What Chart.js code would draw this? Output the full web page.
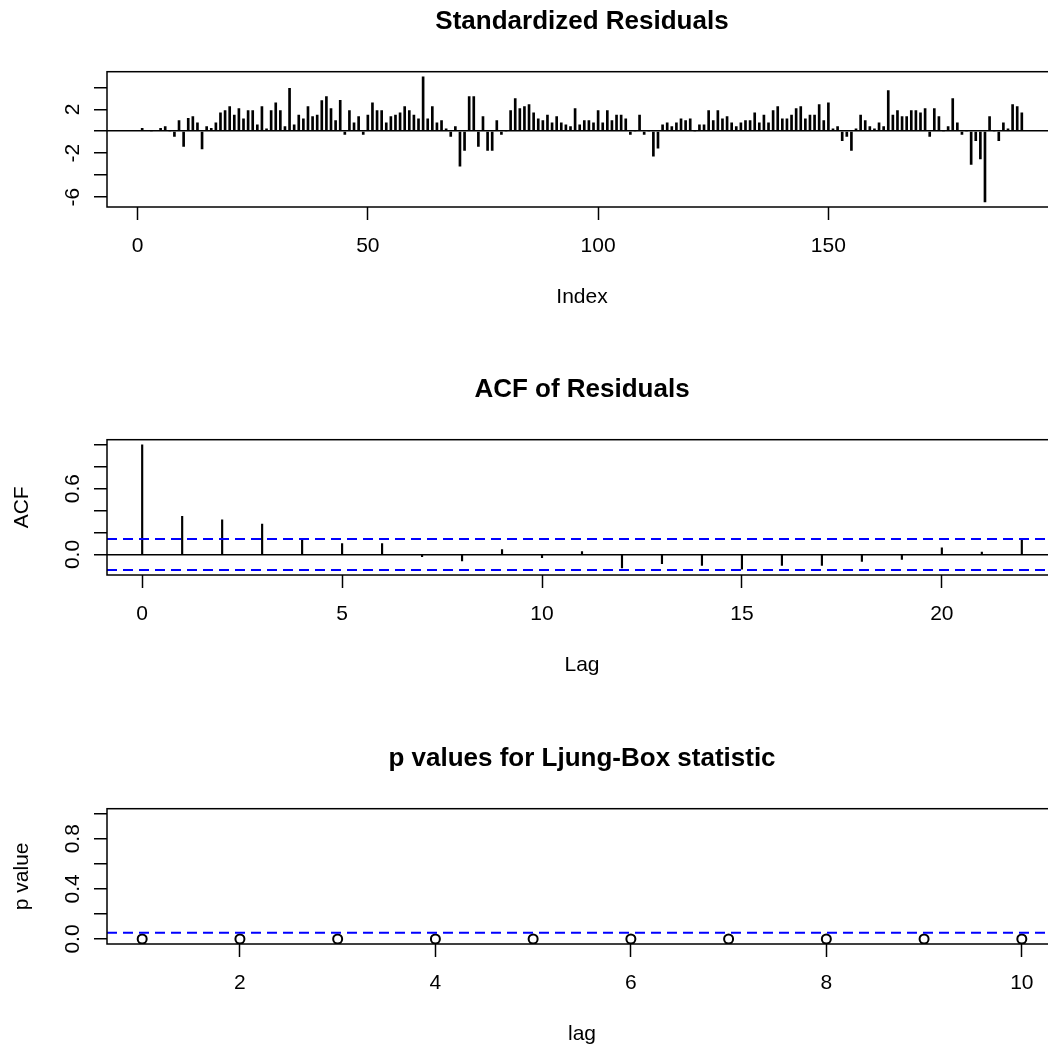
<!DOCTYPE html>
<html>
<head>
<meta charset="utf-8">
<title>tsdiag</title>
<script src="https://cdn.jsdelivr.net/npm/chart.js@4.4.1/dist/chart.umd.min.js"></script>
<style>
  html, body { margin: 0; padding: 0; background: #fff; }
  #page { position: relative; width: 1048px; height: 1047px; overflow: hidden; background: #fff; }
  #page canvas { position: absolute; left: 0; }
</style>
</head>
<body>
<div id="page">
  <canvas id="residChart" width="1075" height="368" style="top:0px"></canvas>
  <canvas id="acfChart" width="1075" height="368" style="top:368px"></canvas>
  <canvas id="lbChart" width="1075" height="368" style="top:737px"></canvas>
</div>
<script>
// ---- data ----
const residuals = [
  0.27, 0.05, 0.02, 0.05, 0.27, 0.42, 0.03, -0.48, 0.97, -1.39,
  1.18, 1.33, 0.76, -1.61, 0.42, 0.27, 0.76, 1.67, 1.88, 2.24,
  1.48, 2.06, 1.12, 1.88, 1.88, 0.58, 2.24, 0.21, 1.88, 2.6,
  1.88, 0.42, 3.9, 0.58, 1.48, 1.12, 2.24, 1.33, 1.48, 2.79,
  3.15, 2.06, 0.97, 2.82, -0.3, 1.88, 0.76, 1.33, -0.3, 1.48,
  2.6, 1.88, 1.88, 0.76, 1.33, 1.48, 1.67, 2.24, 1.88, 1.48,
  1.12, 4.97, 1.12, 2.24, 0.76, 0.97, 0.21, -0.48, 0.42, -3.18,
  -1.76, 3.15, 3.15, -1.39, 1.33, -1.76, -1.76, 0.97, -0.3, 0.03,
  1.88, 2.97, 2.06, 2.24, 2.42, 1.67, 1.12, 0.97, 1.48, 0.76,
  1.33, 0.76, 0.58, 0.42, 2.06, 0.58, 0.97, 0.97, 0.76, 1.88,
  0.76, 1.88, 0.97, 1.48, 1.48, 1.12, -0.3, 0.03, 1.48, -0.3,
  0.02, -2.27, -1.55, 0.58, 0.76, 0.42, 0.76, 1.12, 0.97, 1.12,
  0.03, 0.58, 0.58, 1.88, 0.97, 1.88, 1.12, 1.33, 0.76, 0.42,
  0.76, 0.97, 0.97, 1.67, 0.76, 1.48, 0.76, 1.88, 2.24, 1.12,
  1.12, 1.48, 2.06, 2.24, 1.12, 1.48, 1.48, 2.42, 0.97, 2.6,
  0.21, 0.42, -0.85, -0.48, -1.76, 0.21, 1.48, 0.97, 0.42, 0.21,
  0.76, 0.42, 3.7, 1.48, 1.88, 1.33, 1.33, 1.88, 1.88, 1.67,
  2.06, -0.48, 2.06, 1.33, 0.03, 0.42, 2.97, 0.76, -0.3, 0.02,
  -3.03, -0.85, -2.52, -6.45, 1.33, 0.02, -0.85, 0.76, 0.21, 2.42,
  2.24, 1.67
];
const residIndex = residuals.map((v, i) => i + 1);
const residXTicks = [0, 50, 100, 150];
const residYTicks = [-6, -4, -2, 0, 2, 4];
const residYLabels = ['-6', '', '-2', '', '2', ''];

const acfLags = [0, 1, 2, 3, 4, 5, 6, 7, 8, 9, 10, 11, 12, 13, 14, 15, 16, 17, 18, 19, 20, 21, 22];
const acfValues = [1.0, 0.348, 0.315, 0.276, 0.144, 0.099, 0.099, -0.02, -0.06, 0.045, -0.03,
  0.027, -0.123, -0.084, -0.099, -0.135, -0.099, -0.099, -0.063, -0.045, 0.06, 0.021, 0.141];
const acfBound = 0.1415; // 1.96 / sqrt(192)
const acfXTicks = [0, 5, 10, 15, 20];
const acfYTicks = [0, 0.2, 0.4, 0.6, 0.8, 1.0];
const acfYLabels = ['0.0', '', '', '0.6', '', ''];

const lbLags = [1, 2, 3, 4, 5, 6, 7, 8, 9, 10];
const lbPValues = [0, 0, 0, 0, 0, 0, 0, 0, 0, 0];
const lbLevel = 0.05;
const lbXTicks = [2, 4, 6, 8, 10];
const lbYTicks = [0, 0.2, 0.4, 0.6, 0.8, 1.0];
const lbYLabels = ['0.0', '', '0.4', '', '0.8', ''];

Chart.defaults.font.family = '"Liberation Sans", Arial, sans-serif';
Chart.defaults.color = '#000';

// R style ranges: data range padded by 4% each side
function rRange(vals) {
  const lo = Math.min(...vals), hi = Math.max(...vals);
  const pad = (hi - lo) * 0.04;
  return [lo - pad, hi + pad];
}

// box around the plot region plus R's abline(h=...) dashed lines
const rBoxPlugin = {
  id: 'rbox',
  afterDatasetsDraw(chart, args, opts) {
    const { ctx, chartArea: a, scales } = chart;
    ctx.save();
    (opts.hlines || []).forEach(h => {
      const y = scales.y.getPixelForValue(h.value);
      ctx.strokeStyle = '#0000ff';
      ctx.lineWidth = 2;
      ctx.setLineDash([10, 6]);
      ctx.beginPath();
      ctx.moveTo(a.left, y);
      ctx.lineTo(a.right, y);
      ctx.stroke();
    });
    ctx.setLineDash([]);
    ctx.strokeStyle = '#000';
    ctx.lineWidth = 1.5;
    ctx.strokeRect(a.left, a.top, a.right - a.left, a.bottom - a.top);
    ctx.restore();
  }
};

function makePanel(id, p) {
  const [xmin, xmax] = rRange(p.xRangeFrom);
  const [ymin, ymax] = rRange(p.yRangeFrom);
  return new Chart(document.getElementById(id).getContext('2d'), {
    type: p.type,
    data: { datasets: [p.dataset] },
    plugins: [rBoxPlugin],
    options: {
      responsive: false,
      devicePixelRatio: 1,
      animation: false,
      layout: { padding: { left: 0, right: 18, top: 0, bottom: 51 } },
      plugins: {
        legend: { display: false },
        tooltip: { enabled: false },
        title: {
          display: true,
          text: p.title,
          fullSize: false,
          font: { size: 26, weight: 'bold' },
          padding: { top: 6.3, bottom: 34.2 }
        },
        rbox: { hlines: p.hlines || [] }
      },
      scales: {
        x: {
          type: 'linear',
          min: xmin,
          max: xmax,
          offset: false,
          afterFit: s => { s.height = 110; },
          afterBuildTicks: s => { s.ticks = p.xTicks.map(v => ({ value: v })); },
          border: { display: false },
          grid: {
            offset: false,
            drawOnChartArea: false,
            drawTicks: true,
            tickLength: 13,
            tickColor: '#000',
            tickWidth: 1.5
          },
          ticks: {
            font: { size: 21 },
            padding: 14,
            maxRotation: 0,
            autoSkip: false,
            callback: v => String(v)
          },
          title: {
            display: true,
            text: p.xTitle,
            font: { size: 21 },
            padding: { top: 0, bottom: 6.8 }
          }
        },
        y: {
          type: 'linear',
          min: ymin,
          max: ymax,
          afterFit: s => { s.width = 107; },
          afterBuildTicks: s => { s.ticks = p.yTicks.map(v => ({ value: v })); },
          border: { display: false },
          grid: {
            drawOnChartArea: p.zeroLine,
            drawTicks: true,
            tickLength: 13,
            lineWidth: 1.5,
            color: c => (c.tick && c.tick.value === 0 ? '#000' : 'rgba(0,0,0,0)'),
            tickColor: '#000',
            tickWidth: 1.5
          },
          ticks: {
            font: { size: 21 },
            minRotation: 90,
            maxRotation: 90,
            crossAlign: 'center',
            padding: p.yTickPad,
            autoSkip: false,
            callback: (v, i) => p.yLabels[i]
          },
          title: {
            display: !!p.yTitle,
            text: p.yTitle || '',
            font: { size: 21 },
            padding: { top: 10, bottom: 0 }
          }
        }
      }
    }
  });
}

// Standardized residuals (type = "h")
makePanel('residChart', {
  type: 'bar',
  title: 'Standardized Residuals',
  xTitle: 'Index',
  xRangeFrom: residIndex,
  yRangeFrom: residuals,
  xTicks: residXTicks,
  yTicks: residYTicks,
  yLabels: residYLabels,
  yTickPad: 11.4,
  zeroLine: true,
  dataset: {
    data: residIndex.map((x, i) => ({ x: x, y: residuals[i] })),
    backgroundColor: '#000',
    barThickness: 2
  }
});

// ACF of residuals with the +/- bound
makePanel('acfChart', {
  type: 'bar',
  title: 'ACF of Residuals',
  xTitle: 'Lag',
  yTitle: 'ACF',
  xRangeFrom: acfLags,
  yRangeFrom: acfValues.concat([-acfBound, acfBound]),
  xTicks: acfXTicks,
  yTicks: acfYTicks,
  yLabels: acfYLabels,
  yTickPad: 6.2,
  zeroLine: true,
  hlines: [{ value: acfBound }, { value: -acfBound }],
  dataset: {
    data: acfLags.map((x, i) => ({ x: x, y: acfValues[i] })),
    backgroundColor: '#000',
    barThickness: 1.5
  }
});

// Ljung-Box p values
makePanel('lbChart', {
  type: 'scatter',
  title: 'p values for Ljung-Box statistic',
  xTitle: 'lag',
  yTitle: 'p value',
  xRangeFrom: lbLags,
  yRangeFrom: [0, 1],
  xTicks: lbXTicks,
  yTicks: lbYTicks,
  yLabels: lbYLabels,
  yTickPad: 6.2,
  zeroLine: false,
  hlines: [{ value: lbLevel }],
  dataset: {
    data: lbLags.map((x, i) => ({ x: x, y: lbPValues[i] })),
    pointStyle: 'circle',
    pointRadius: 4.5,
    pointBorderWidth: 2,
    pointBorderColor: '#000',
    pointBackgroundColor: 'rgba(0,0,0,0)'
  }
});
</script>
</body>
</html>
